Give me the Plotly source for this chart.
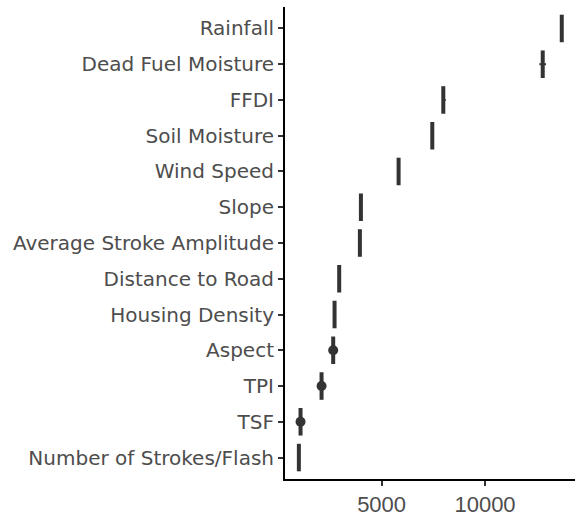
import plotly.graph_objects as go

# Categories listed top to bottom
categories = [
    "Rainfall", "Dead Fuel Moisture", "FFDI", "Soil Moisture", "Wind Speed",
    "Slope", "Average Stroke Amplitude", "Distance to Road", "Housing Density",
    "Aspect", "TPI", "TSF", "Number of Strokes/Flash",
]
median_vals = [13710, 12790, 7983, 7450, 5822, 4000, 3950, 2950, 2726, 2660, 2097, 1081, 1000]
whisker_lo = [13710, 12630, 7983, 7450, 5822, 4000, 3950, 2950, 2726, 2600, 2040, 1030, 1000]
whisker_hi = [13710, 12950, 8100, 7450, 5822, 4000, 3950, 2950, 2726, 2720, 2150, 1130, 1000]
outlier_vals = [None, None, None, None, None, None, None, None, None, 2660, 2097, 1081, None]
x_ticks = [5000, 10000]

n = len(categories)
ypos = [n - i for i in range(n)]
half = 0.385
dark = "#333333"

bx, by = [], []
for v, y in zip(median_vals, ypos):
    bx += [v, v, None]
    by += [y - half, y + half, None]

wx, wy = [], []
for lo, hi, y in zip(whisker_lo, whisker_hi, ypos):
    if hi > lo:
        wx += [lo, hi, None]
        wy += [y, y, None]

ox = [o for o in outlier_vals if o is not None]
oy = [y for o, y in zip(outlier_vals, ypos) if o is not None]

fig = go.Figure()
fig.add_trace(go.Scatter(x=bx, y=by, mode="lines",
                         line=dict(color=dark, width=4), hoverinfo="skip"))
fig.add_trace(go.Scatter(x=wx, y=wy, mode="lines",
                         line=dict(color=dark, width=2), hoverinfo="skip"))
fig.add_trace(go.Scatter(x=ox, y=oy, mode="markers",
                         marker=dict(color=dark, size=10), hoverinfo="skip"))

fig.update_layout(
    width=576, height=518,
    margin=dict(l=285, r=1, t=7, b=36),
    paper_bgcolor="white", plot_bgcolor="white",
    showlegend=False,
    font=dict(family="Liberation Sans, Arial, sans-serif", color="#4D4D4D"),
)
fig.update_xaxes(
    range=[330, 14350], tickvals=x_ticks, ticktext=[str(t) for t in x_ticks],
    showgrid=False, zeroline=False, showline=True, linecolor="black", linewidth=2,
    ticks="outside", ticklen=5, tickwidth=1.5, tickcolor=dark,
    tickfont=dict(size=22, color="#4D4D4D"),
)
fig.update_yaxes(
    range=[0.4, 13.6], tickvals=ypos, ticktext=categories,
    showgrid=False, zeroline=False, showline=True, linecolor="black", linewidth=2,
    ticks="outside", ticklen=5, tickwidth=1.5, tickcolor=dark,
    tickfont=dict(family="DejaVu Sans, sans-serif", size=20, color="#4D4D4D"),
)

fig.write_html("out.html")
